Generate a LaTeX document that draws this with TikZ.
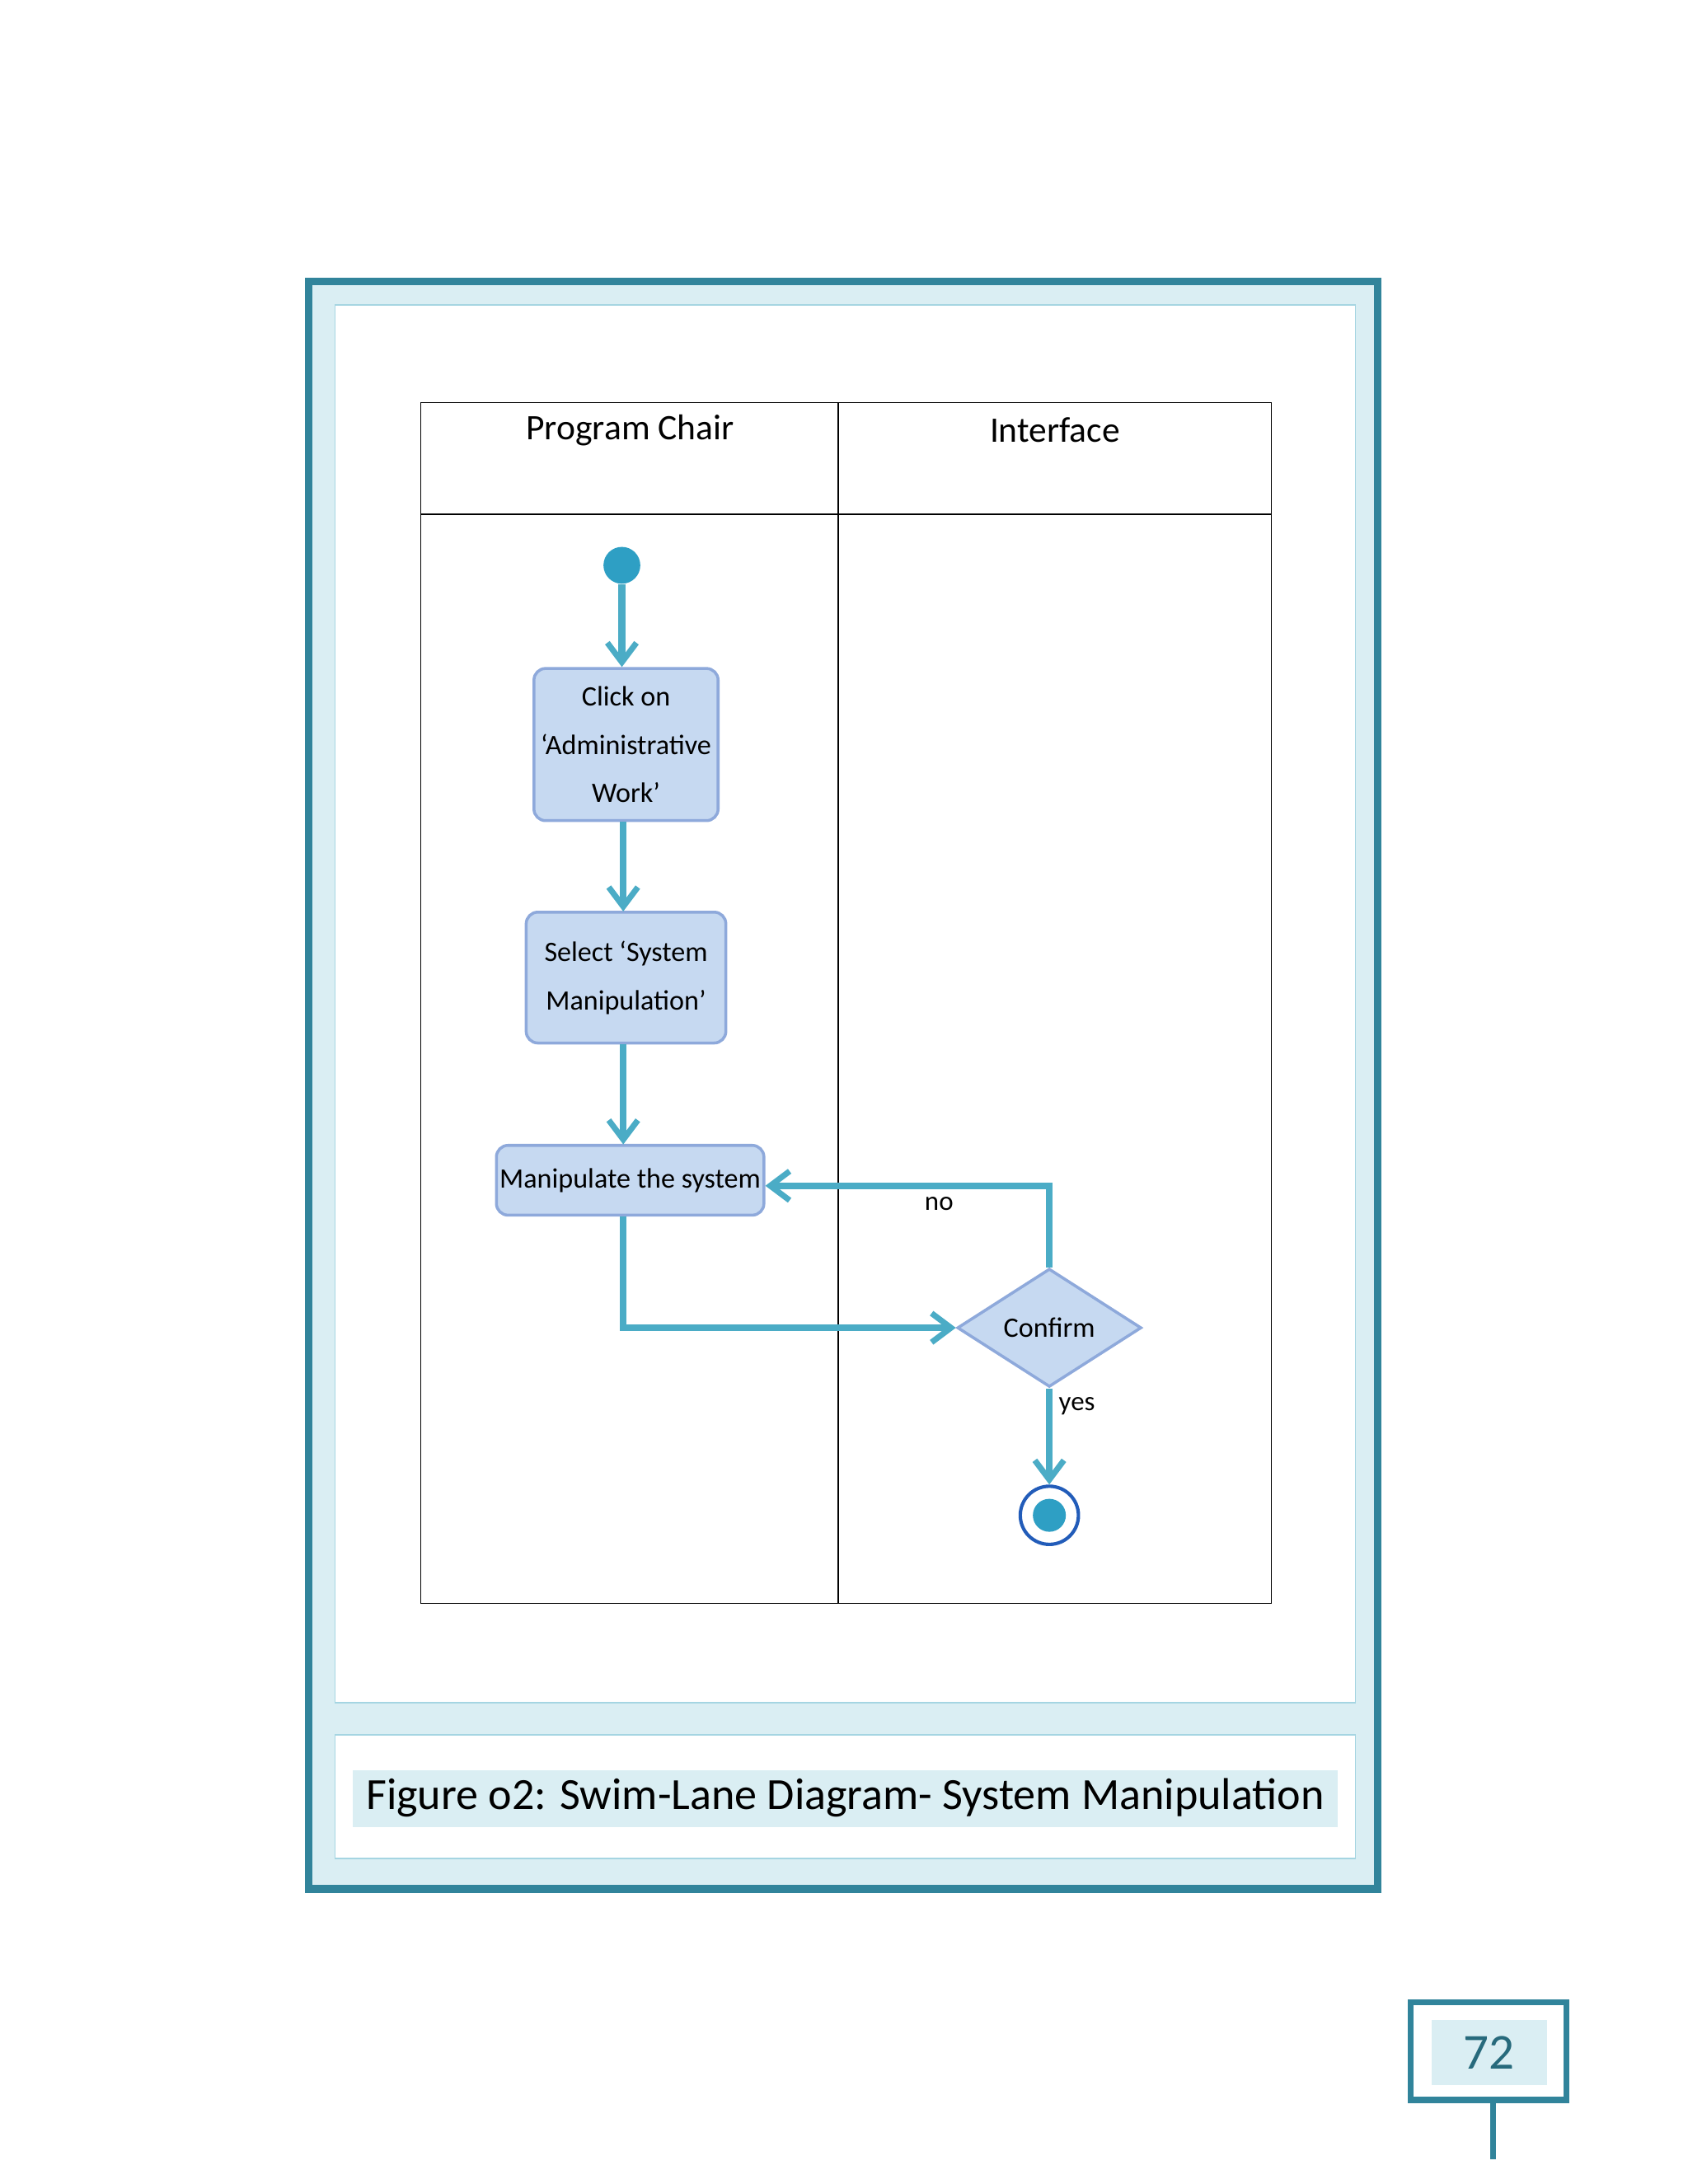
\documentclass[tikz,border=0pt]{standalone}
\usepackage{fontspec}
\setmainfont{Carlito}
\usetikzlibrary{shapes.geometric,arrows.meta}
\definecolor{frame}{HTML}{31849B}
\definecolor{pale}{HTML}{DAEEF3}
\definecolor{paleline}{HTML}{A5D5E2}
\definecolor{act}{HTML}{C6D9F1}
\definecolor{actb}{HTML}{8EA9DB}
\definecolor{flow}{HTML}{4BACC6}
\definecolor{dot}{HTML}{2E9FC4}
\begin{document}
\begin{tikzpicture}[x=0.05cm,y=-0.05cm,
  act/.style={draw=actb,line width=3pt,fill=act,rounded corners=12pt,align=center,font=\fontsize{29}{50}\selectfont},
  fl/.style={draw=flow,line width=7pt,-{Straight Barb[length=20pt,width=30pt,line width=6pt]}},
  lab/.style={font=\fontsize{28}{32}\selectfont}]
\useasboundingbox (0,0) rectangle (1224,1584);
\fill[white] (0,0) rectangle (1224,1584);
% outer frame
\draw[frame,line width=8pt,fill=pale] (224,204) rectangle (999,1370);
\draw[paleline,line width=1.5pt,fill=white] (243,221) rectangle (983,1235);
\draw[paleline,line width=1.5pt,fill=white] (243,1258) rectangle (983,1348);
\fill[pale] (256,1284) rectangle (970,1325);
\node[font=\fontsize{46}{52}\selectfont] (cap) at (613,1304) {Figure o2: Swim-Lane Diagram- System Manipulation};
% page number
\draw[frame,line width=6pt] (1023,1452) rectangle (1136,1523);
\fill[pale] (1038,1465) rectangle (1122,1512);
\node[font=\fontsize{52}{58}\selectfont,text=frame!80!black] (pg) at (1080,1489) {72};
\draw[frame,line width=6pt] (1083,1523) -- (1083,1566);
% table
\draw[line width=1.2pt] (305,292) rectangle (922,1163);
\draw[line width=1.2pt] (608,292) -- (608,1163);
\draw[line width=1.2pt] (305,373) -- (922,373);
\node[font=\fontsize{37}{42}\selectfont] (h1) at (457,312) {Program Chair};
\node[font=\fontsize{37}{42}\selectfont] (h2) at (765,312) {Interface};
% nodes
\node[circle,fill=dot,minimum size=38pt,inner sep=0pt] (start) at (451,410) {};
\node[act,minimum width=190pt,minimum height=157pt] (b1) at (454,540) {Click on\\‘Administrative\\Work’};
\node[act,minimum width=206pt,minimum height=135pt] (b2) at (454,709) {Select ‘System\\Manipulation’};
\node[act,minimum width=243pt,minimum height=72pt] (b3) at (457,856) {Manipulate the system};
\node[diamond,draw=actb,line width=3pt,fill=act,minimum width=190pt,minimum height=122pt,inner sep=0pt,font=\fontsize{29}{32}\selectfont] (d) at (761,963) {Confirm};
\node[circle,draw=frame!70!blue,line width=3.5pt,fill=white,minimum size=60pt,inner sep=0pt] (end) at (761,1099) {};
\node[circle,fill=dot,minimum size=34pt,inner sep=0pt] (endin) at (761,1099) {};
% flows
\draw[fl] (start) -- (b1.north -| start);
\draw[fl] (b1.south -| 452,0) -- (452,661);
\draw[fl] (b2.south -| 452,0) -- (452,830);
\draw[fl] (b3.south -| 452,0) -- (452,963) -- (d.west);
\draw[fl] (d.north) -- (761,860) -- (b3.east |- 0,860);
\draw[fl] (d.south) -- (end);
\node[lab] (no) at (681,873) {no};
\node[lab] (yes) at (781,1020) {yes};
\end{tikzpicture}
\end{document}
